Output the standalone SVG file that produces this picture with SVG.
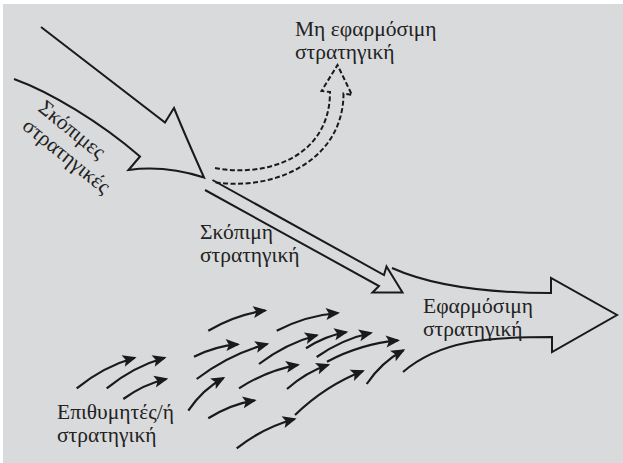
<svg xmlns="http://www.w3.org/2000/svg" width="623" height="463" viewBox="0 0 623 463">
<defs>
<style>
.ln{fill:none;stroke:#1a1a1a;stroke-width:2;stroke-linejoin:miter}
.dash{fill:none;stroke:#1a1a1a;stroke-width:2;stroke-dasharray:5 2.5}
.sm{fill:none;stroke:#1a1a1a;stroke-width:2.2;marker-end:url(#ah)}
.t{font-family:"Liberation Serif","Times New Roman",serif;font-size:21.5px;fill:#222}
</style>
<marker id="ah" markerUnits="userSpaceOnUse" viewBox="-15 -7 18 14" markerWidth="18" markerHeight="14" refX="0" refY="0" orient="auto">
<path d="M2,0 L-12,-6 L-9,0 L-12,6 Z" fill="#1a1a1a"/>
</marker>
</defs>
<rect width="623" height="463" fill="#ffffff"/>
<rect x="3" y="4" width="620" height="459" fill="#d9dadc"/>

<g id="intended">
<path class="ln" d="M41,27 L165,122.5 L174,108 Q185,135 204,177.5 Q165,165 128.5,170 L140,156.5 C100,122 50,92 14,79"/>
<text class="t" transform="translate(37,110) rotate(39)"><tspan x="0" y="0">Σκόπιμες</tspan><tspan x="-1" y="24">στρατηγικές</tspan></text>
</g>

<g id="unrealized">
<path class="dash" d="M215,168 C270,178 330,155 330,92 L321.5,91 L337.5,65 L352,95 L343.5,93.5 C343.5,160 275,192 213,182"/>
<text class="t"><tspan x="295" y="36">Μη εφαρμόσιμη</tspan><tspan x="295" y="58.5">στρατηγική</tspan></text>
</g>

<g id="deliberate">
<path class="ln" d="M212.5,180 L384,275 L386.5,266.5 L402.5,292.5 L372.5,292.5 L379,286 L205,190"/>
<text class="t"><tspan x="200" y="239">Σκόπιμη</tspan><tspan x="200" y="261.5">στρατηγική</tspan></text>
</g>

<g id="realized">
<path class="ln" d="M392,268 C430,285 480,293 551,293 L551,278 L617,315 L552,352 L552,337 C490,337 440,340 403,372"/>
<text class="t"><tspan x="423" y="313">Εφαρμόσιμη</tspan><tspan x="423" y="335.5">στρατηγική</tspan></text>
</g>

<g id="emergent">
<text class="t"><tspan x="57" y="419">Επιθυμητές/ή</tspan><tspan x="57" y="442">στρατηγική</tspan></text>
</g>

<g id="connectors">
<path class="sm" d="M76.7,388.3 Q103.5,366.5 134.7,357.7"/>
<path class="sm" d="M106.7,388.3 Q133.5,366.5 164.7,357.7"/>
<path class="sm" d="M123.3,399 Q143.7,384.2 166.3,379"/>
<path class="sm" d="M208.3,330.7 Q235.7,314.5 265.3,310.5"/>
<path class="sm" d="M276.7,330.7 Q306.6,315.4 338,313"/>
<path class="sm" d="M194,356.7 Q215.7,345.8 238,344.3"/>
<path class="sm" d="M196.7,379 Q229.4,353.9 267.3,344"/>
<path class="sm" d="M259,364 Q286,343.3 317,335.2"/>
<path class="sm" d="M306,348.3 Q325.5,335.8 346.3,332.2"/>
<path class="sm" d="M316.7,357 Q342.4,339 371,333"/>
<path class="sm" d="M327,361.7 Q361.3,343.6 398,340.4"/>
<path class="sm" d="M188.3,410.7 Q202.6,389.3 223.5,378"/>
<path class="sm" d="M239,388.3 Q267.1,370.2 298,364.8"/>
<path class="sm" d="M287,389 Q306,372.2 328.3,364.8"/>
<path class="sm" d="M295,415 Q325.5,385.5 363,371"/>
<path class="sm" d="M366.7,384 Q381.7,361.9 403.5,350.3"/>
<path class="sm" d="M208.3,418.3 Q230.7,404.3 254.7,400.4"/>
<path class="sm" d="M236.7,448.3 Q263.7,427.3 294.7,419"/>
</g>
</svg>
